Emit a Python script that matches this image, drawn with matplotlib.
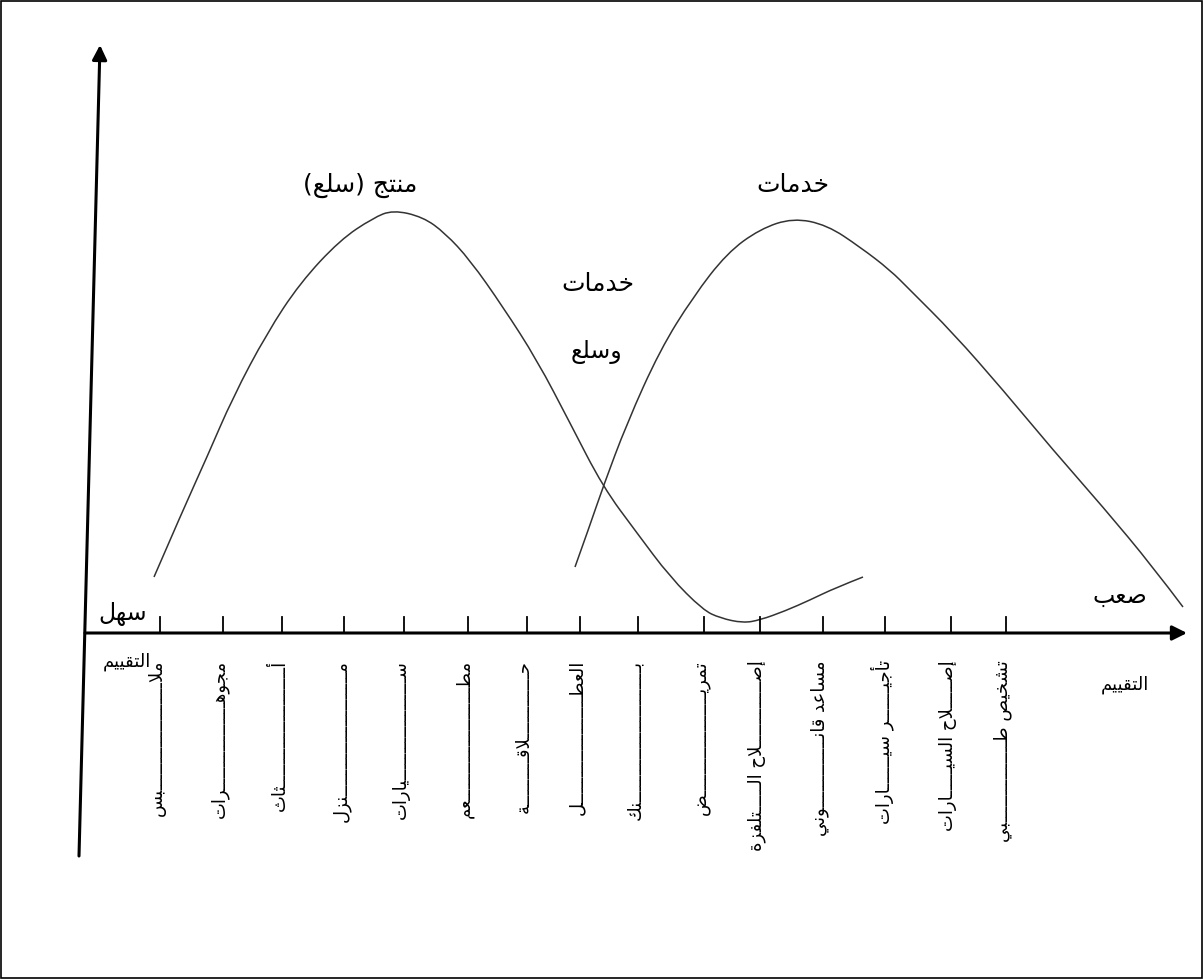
import matplotlib
matplotlib.use("Agg")
import matplotlib.pyplot as plt
from matplotlib.patches import Rectangle, PathPatch
from matplotlib.path import Path

plt.rcParams['font.family'] = ['DejaVu Sans']

# ---- data (pixel coordinates, y grows downward) ----
goods_x = [154, 183, 207, 233, 267, 300, 340, 373, 393, 423, 445, 470, 503, 537,
           570, 603, 637, 670, 703, 720, 743, 760, 785, 810, 835, 863]
goods_y = [577, 510, 457, 397, 333, 283, 240, 218, 210, 217, 233, 260, 307, 360,
           423, 487, 533, 577, 610, 618, 623, 620, 611, 600, 588, 577]

serv_x = [575, 590, 603, 627, 660, 693, 727, 760, 793, 827, 860, 890, 910, 953,
          1003, 1053, 1103, 1153, 1183]
serv_y = [567, 525, 487, 423, 350, 297, 253, 229, 218, 225, 247, 270, 290, 333,
          390, 450, 507, 567, 607]

tick_x = [160, 223, 282, 344, 404, 468, 527, 580, 638, 704, 760, 823, 885, 951, 1006]

K = 'ـ'  # kashida used to stretch the vertical labels
items = [
    "ملا" + K * 20 + "بس",
    "مجوهـ" + K * 15 + "رات",
    "أ" + K * 22 + "ثاث",
    "م" + K * 23 + "نزل",
    "س" + K * 19 + "يارات",
    "مط" + K * 21 + "عم",
    "حـ" + K * 11 + "لاقـ" + K * 8 + "ة",
    "العط" + K * 20 + "ل",
    "ب" + K * 25 + "نك",
    "تمريـ" + K * 18 + "ض",
    "إصـ" + K * 11 + "لاح الـ" + K * 4 + "تلفزة",
    "مساعد قانـ" + K * 12 + "وني",
    "تأجيـ" + K * 5 + "ر سيـ" + K * 5 + "ارات",
    "إصـ" + K * 4 + "لاح السيـ" + K * 4 + "ارات",
    "تشخيص طـ" + K * 14 + "بي",
]

# ---- minimal Arabic shaping (presentation forms + visual order) ----
FORMS = {
    'ء': (0xFE80, 0), 'آ': (0xFE81, 1), 'أ': (0xFE83, 1), 'ؤ': (0xFE85, 1),
    'إ': (0xFE87, 1), 'ئ': (0xFE89, 2), 'ا': (0xFE8D, 1), 'ب': (0xFE8F, 2),
    'ة': (0xFE93, 1), 'ت': (0xFE95, 2), 'ث': (0xFE99, 2), 'ج': (0xFE9D, 2),
    'ح': (0xFEA1, 2), 'خ': (0xFEA5, 2), 'د': (0xFEA9, 1), 'ذ': (0xFEAB, 1),
    'ر': (0xFEAD, 1), 'ز': (0xFEAF, 1), 'س': (0xFEB1, 2), 'ش': (0xFEB5, 2),
    'ص': (0xFEB9, 2), 'ض': (0xFEBD, 2), 'ط': (0xFEC1, 2), 'ظ': (0xFEC5, 2),
    'ع': (0xFEC9, 2), 'غ': (0xFECD, 2), 'ف': (0xFED1, 2), 'ق': (0xFED5, 2),
    'ك': (0xFED9, 2), 'ل': (0xFEDD, 2), 'م': (0xFEE1, 2), 'ن': (0xFEE5, 2),
    'ه': (0xFEE9, 2), 'و': (0xFEED, 1), 'ى': (0xFEEF, 1), 'ي': (0xFEF1, 2),
}
LAM_ALEF = {'ا': 0xFEFB, 'أ': 0xFEF7, 'إ': 0xFEF9, 'آ': 0xFEF5}


def shape(text):
    toks = []
    i = 0
    while i < len(text):
        c = text[i]
        if c == 'ل' and i + 1 < len(text) and text[i + 1] in LAM_ALEF:
            toks.append(('lig', LAM_ALEF[text[i + 1]], 1))
            i += 2
            continue
        if c in FORMS:
            toks.append(('ch', FORMS[c][0], FORMS[c][1]))
        elif c == K:
            toks.append(('tw', ord(c), 2))
        else:
            toks.append(('x', ord(c), 0))
        i += 1

    out = []
    for k, (kind, code, join) in enumerate(toks):
        prev = toks[k - 1] if k > 0 else None
        nxt = toks[k + 1] if k + 1 < len(toks) else None
        jp = join >= 1 and prev is not None and prev[2] == 2
        jn = join == 2 and nxt is not None and nxt[2] >= 1
        if kind in ('x', 'tw') or join == 0:
            out.append(chr(code))
        elif join == 1:
            out.append(chr(code + (1 if jp else 0)))
        else:
            off = 3 if (jp and jn) else 1 if jp else 2 if jn else 0
            out.append(chr(code + off))
    vis = ''.join(reversed(out))
    return vis.translate(str.maketrans('()', ')('))


def smooth_path(xs, ys):
    # quadratic B-spline style path through the read points
    pts = list(zip(xs, ys))
    verts = [pts[0]]
    codes = [Path.MOVETO]
    n = len(pts)
    for i in range(1, n - 1):
        if i < n - 2:
            end = ((pts[i][0] + pts[i + 1][0]) / 2, (pts[i][1] + pts[i + 1][1]) / 2)
        else:
            end = pts[n - 1]
        verts += [pts[i], end]
        codes += [Path.CURVE3, Path.CURVE3]
    return Path(verts, codes)


fig = plt.figure(figsize=(12.03, 9.8), dpi=100)
ax = fig.add_axes([0, 0, 1, 1])
ax.set_xlim(0, 1203)
ax.set_ylim(980, 0)
ax.axis('off')

# frame
ax.add_patch(Rectangle((1, 1), 1201, 977, fill=False, ec='black', lw=1.2))

# axes with arrows
ax.annotate('', xy=(1187, 633), xytext=(85, 633),
            arrowprops=dict(arrowstyle='-|>', lw=2.2, color='black',
                            mutation_scale=22, shrinkA=0, shrinkB=0))
ax.annotate('', xy=(100, 45), xytext=(79, 856),
            arrowprops=dict(arrowstyle='-|>', lw=2.2, color='black',
                            mutation_scale=22, shrinkA=0, shrinkB=0))

for x in tick_x:
    ax.plot([x, x], [617, 633], color='black', lw=1.3)

# curves
for xs, ys in [(goods_x, goods_y), (serv_x, serv_y)]:
    ax.add_patch(PathPatch(smooth_path(xs, ys), fill=False, ec='#333333', lw=1.1))

# item labels
for x, lab in zip(tick_x, items):
    ax.text(x - 3, 660, shape(lab), rotation=90, ha='center', va='top',
            fontsize=13, color='black')

ax.text(360, 185, shape("منتج (سلع)"), ha='center', va='center', fontsize=18)
ax.text(793, 185, shape("خدمات"), ha='center', va='center', fontsize=18)
ax.text(598, 284, shape("خدمات"), ha='center', va='center', fontsize=18)
ax.text(596, 352, shape("وسلع"), ha='center', va='center', fontsize=17)

ax.text(123, 614, shape("سهل"), ha='center', va='center', fontsize=17)
ax.text(1120, 596, shape("صعب"), ha='center', va='center', fontsize=17)
ax.text(127, 662, shape("التقييم"), ha='center', va='center', fontsize=13)
ax.text(1125, 685, shape("التقييم"), ha='center', va='center', fontsize=13)

fig.savefig("out.png", dpi=100)
